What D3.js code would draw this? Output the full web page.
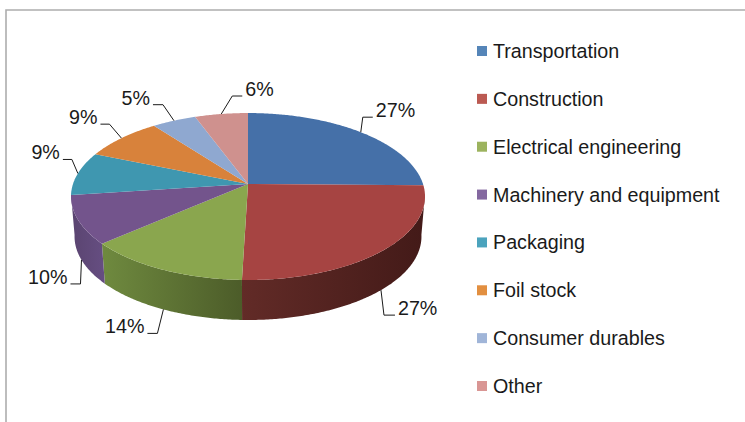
<!DOCTYPE html>
<html>
<head>
<meta charset="utf-8">
<script src="https://cdn.jsdelivr.net/npm/d3@7"></script>
<style>
  html, body { margin: 0; padding: 0; background: #fff; }
  svg { display: block; }
  text { font-family: "Liberation Sans", Arial, sans-serif; fill: #1a1a1a; }
</style>
</head>
<body>
<div id="chart"></div>
<script>
const categories = [
  "Transportation",
  "Construction",
  "Electrical engineering",
  "Machinery and equipment",
  "Packaging",
  "Foil stock",
  "Consumer durables",
  "Other",
];
const shares = [27, 27, 14, 10, 9, 9, 5, 6];

const topColors = ["#4570a8", "#a64442", "#8aa64e", "#73548c", "#3f97b0", "#d8823b", "#8fa8d0", "#cf918e"];
const legendColors = ["#5585b8", "#bb5a52", "#9cb35e", "#8468a0", "#4ba3bd", "#e28f40", "#a0b5d8", "#d99694"];
// left and right colour of the visible rim, only the front slices have one
const sideColors = [null, ["#622b27", "#431a18"], ["#6f8a3f", "#4c5c29"], ["#5a4470", "#664e82"], null, null, null, null];

// leader elbow and end, relative to the point on the rim, then text anchor
const leaderLayout = [
  { elbow: [2, -15], end: [12, -15], anchor: "start" },
  { elbow: [3, 25], end: [14, 25], anchor: "start" },
  { elbow: [-6, 24], end: [-16, 24], anchor: "end" },
  { elbow: [-1, 24], end: [-11, 24], anchor: "end" },
  { elbow: [-6, -14], end: [-15, -14], anchor: "end" },
  { elbow: [-12, -14], end: [-21, -14], anchor: "end" },
  { elbow: [-11, -16], end: [-21, -16], anchor: "end" },
  { elbow: [11, -18], end: [21, -18], anchor: "start" },
];

const width = 745,
  height = 422;

const svg = d3.select("#chart").append("svg").attr("width", width).attr("height", height);
const defs = svg.append("defs");

// frame, only top and left survive the crop
svg.append("path")
  .attr("d", "M6,422V10H745")
  .attr("fill", "none")
  .attr("stroke", "#adadad")
  .attr("stroke-width", 1.6);

// perspective pie: apex, radii and tilt
const cx = 248,
  cy = 184,
  rx = 175,
  ry = 81.6,
  tilt = 0.15,
  depth = 40,
  baseScale = 0.98;

function project(a) {
  const u = Math.sin(a),
    v = -Math.cos(a),
    w = 1 - tilt * v;
  return [cx + (rx * u) / w, cy + (ry * v) / w];
}
function lower(a) {
  const p = project(a);
  return [cx + (p[0] - cx) * baseScale, p[1] + depth];
}

const pie = d3.pie().sort(null).value(function (d) { return d; });
const arcs = pie(shares);
const line = d3.line();

function sample(a0, a1, fn) {
  const n = Math.max(2, Math.ceil(Math.abs(a1 - a0) / 0.01));
  return d3.range(n + 1).map(function (i) {
    return fn(a0 + ((a1 - a0) * i) / n);
  });
}

// the rim is only seen between the two widest points of the ellipse
const sideStart = (97.4 * Math.PI) / 180,
  sideEnd = (262.6 * Math.PI) / 180;

const sides = svg.append("g");
arcs.forEach(function (d, i) {
  if (!sideColors[i]) return;
  const a0 = Math.max(d.startAngle, sideStart),
    a1 = Math.min(d.endAngle, sideEnd);
  if (a1 <= a0) return;
  const upper = sample(a0, a1, project),
    bottom = sample(a1, a0, lower);
  const xs = d3.extent(upper.concat(bottom), function (p) { return p[0]; });
  const grad = defs.append("linearGradient")
    .attr("id", "side" + i)
    .attr("gradientUnits", "userSpaceOnUse")
    .attr("x1", xs[0]).attr("x2", xs[1]).attr("y1", 0).attr("y2", 0);
  grad.append("stop").attr("offset", 0).attr("stop-color", sideColors[i][0]);
  grad.append("stop").attr("offset", 1).attr("stop-color", sideColors[i][1]);
  sides.append("path")
    .attr("d", line(upper.concat(bottom)) + "Z")
    .attr("fill", "url(#side" + i + ")");
});

svg.append("g")
  .selectAll("path")
  .data(arcs)
  .enter()
  .append("path")
  .attr("d", function (d) {
    return line([[cx, cy]].concat(sample(d.startAngle, d.endAngle, project))) + "Z";
  })
  .attr("fill", function (d, i) { return topColors[i]; });

// leaders and percentage labels
const labels = svg.append("g");
arcs.forEach(function (d, i) {
  const mid = (d.startAngle + d.endAngle) / 2;
  const front = mid > sideStart && mid < sideEnd;
  const p = front ? lower(mid) : project(mid);
  const l = leaderLayout[i];
  const elbow = [p[0] + l.elbow[0], p[1] + l.elbow[1]],
    end = [p[0] + l.end[0], p[1] + l.end[1]];
  labels.append("path")
    .attr("d", line([p, elbow, end]))
    .attr("fill", "none")
    .attr("stroke", "#1a1a1a")
    .attr("stroke-width", 1);
  labels.append("text")
    .attr("x", end[0] + (l.anchor === "start" ? 3 : -3))
    .attr("y", end[1])
    .attr("text-anchor", l.anchor)
    .attr("font-size", 19.7)
    .text(shares[i] + "%");
});

// legend
const legendY = d3.scalePoint().domain(categories).range([51, 386]);
const legend = svg.append("g")
  .selectAll("g")
  .data(categories)
  .enter()
  .append("g")
  .attr("transform", function (d) { return "translate(477," + legendY(d) + ")"; });
legend.append("rect")
  .attr("y", -5)
  .attr("width", 10)
  .attr("height", 10)
  .attr("fill", function (d, i) { return legendColors[i]; });
legend.append("text")
  .attr("x", 16)
  .attr("y", 7)
  .attr("font-size", 19.7)
  .text(function (d) { return d; });
</script>
</body>
</html>
